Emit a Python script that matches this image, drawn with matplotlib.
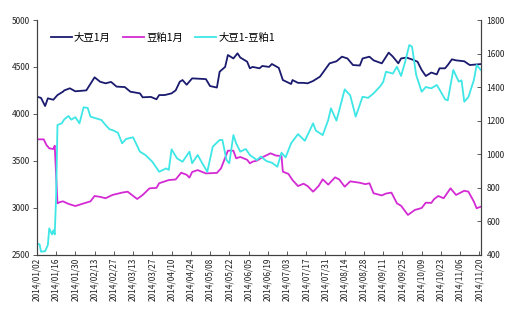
import matplotlib
matplotlib.use("Agg")
import matplotlib.pyplot as plt
import matplotlib.dates as mdates
import pandas as pd

plt.rcParams['font.family'] = ['Noto Sans CJK SC', 'DejaVu Sans']

# 大豆1月 (left axis)
soy_dates = ["01/02", "01/05", "01/08", "01/10", "01/14", "01/17", "01/21", "01/22", "01/26", "01/30",
             "02/07", "02/13", "02/17", "02/21", "02/25", "03/01", "03/07", "03/11", "03/18", "03/20",
             "03/26", "03/30", "04/01", "04/05", "04/10", "04/13", "04/16", "04/18", "04/21", "04/25",
             "05/05", "05/08", "05/13", "05/15", "05/19", "05/21", "05/25", "05/28", "05/30", "06/04",
             "06/06", "06/08", "06/13", "06/15", "06/20", "06/22", "06/27", "06/30", "07/06", "07/07",
             "07/11", "07/15", "07/18", "07/22", "07/27", "08/03", "08/08", "08/12", "08/16", "08/20",
             "08/25", "08/27", "09/01", "09/04", "09/10", "09/15", "09/18", "09/22", "09/24", "09/28",
             "10/03", "10/06", "10/09", "10/12", "10/16", "10/20", "10/22", "10/26", "10/28", "10/31",
             "11/03", "11/09", "11/13", "11/21"]
soy = [4182, 4170, 4083, 4165, 4150, 4200, 4236, 4250, 4272, 4240,
       4250, 4389, 4342, 4325, 4340, 4290, 4285, 4236, 4218, 4176,
       4180, 4155, 4200, 4200, 4218, 4250, 4342, 4360, 4310, 4378,
       4370, 4296, 4280, 4449, 4500, 4627, 4590, 4645, 4600, 4556,
       4485, 4500, 4485, 4510, 4500, 4531, 4490, 4360, 4318, 4360,
       4330, 4330, 4325, 4350, 4396, 4538, 4560, 4609, 4590, 4520,
       4515, 4590, 4609, 4570, 4538, 4652, 4610, 4538, 4590, 4600,
       4574, 4555, 4467, 4403, 4440, 4420, 4485, 4485, 4520, 4581,
       4570, 4560, 4520, 4530]

# 豆粕1月 (left axis)
meal_dates = ["01/02", "01/07", "01/09", "01/11", "01/14", "01/15", "01/16", "01/17", "01/19", "01/21",
              "01/25", "01/30", "02/04", "02/10", "02/13", "02/17", "02/21", "02/26", "03/05", "03/09",
              "03/16", "03/20", "03/25", "03/30", "04/01", "04/08", "04/13", "04/17", "04/21", "04/23",
              "04/25", "04/29", "05/05", "05/13", "05/16", "05/21", "05/25", "05/27", "05/30", "06/04",
              "06/06", "06/08", "06/11", "06/15", "06/21", "06/25", "06/29", "06/30", "07/04", "07/07",
              "07/11", "07/15", "07/18", "07/22", "07/26", "07/29", "08/02", "08/07", "08/10", "08/14",
              "08/18", "08/25", "08/29", "09/01", "09/04", "09/10", "09/13", "09/17", "09/21", "09/24",
              "09/29", "10/04", "10/09", "10/12", "10/16", "10/18", "10/21", "10/25", "10/30", "11/03",
              "11/05", "11/09", "11/12", "11/16", "11/18", "11/21"]
meal = [3728, 3728, 3667, 3632, 3625, 3660, 3348, 3046, 3060, 3067,
        3040, 3017, 3040, 3067, 3124, 3115, 3100, 3135, 3160, 3170,
        3092, 3135, 3206, 3210, 3260, 3294, 3300, 3372, 3350, 3320,
        3380, 3400, 3365, 3370, 3419, 3607, 3607, 3526, 3540, 3510,
        3472, 3490, 3500, 3536, 3579, 3555, 3550, 3383, 3360, 3294,
        3230, 3255, 3230, 3170, 3230, 3302, 3245, 3323, 3300, 3223,
        3280, 3265, 3250, 3260, 3153, 3130, 3150, 3160, 3046, 3020,
        2922, 2975, 2996, 3053, 3050, 3090, 3124, 3100, 3206, 3135,
        3150, 3180, 3170, 3063, 2993, 3010]

# 大豆1-豆粕1 (right axis)
spread_dates = ["01/02", "01/04", "01/05", "01/08", "01/10", "01/11", "01/13", "01/14", "01/15", "01/16",
                "01/17", "01/20", "01/22", "01/25", "01/27", "01/30", "02/02", "02/05", "02/08", "02/10",
                "02/14", "02/18", "02/21", "02/24", "02/26", "03/02", "03/05", "03/08", "03/13", "03/18",
                "03/22", "03/27", "04/01", "04/06", "04/08", "04/10", "04/14", "04/18", "04/23", "04/25",
                "04/29", "05/02", "05/06", "05/10", "05/15", "05/17", "05/20", "05/22", "05/25", "05/27",
                "05/30", "06/03", "06/06", "06/11", "06/14", "06/18", "06/22", "06/26", "06/29", "07/02",
                "07/06", "07/11", "07/16", "07/22", "07/24", "07/29", "08/02", "08/04", "08/08", "08/14",
                "08/18", "08/22", "08/27", "08/31", "09/04", "09/09", "09/11", "09/13", "09/16", "09/18",
                "09/21", "09/24", "09/27", "09/30", "10/02", "10/05", "10/09", "10/12", "10/16", "10/20",
                "10/22", "10/26", "10/28", "11/01", "11/05", "11/07", "11/09", "11/12", "11/16", "11/18",
                "11/21"]
spread = [467, 460, 417, 420, 457, 556, 520, 545, 520, 745,
          1173, 1183, 1207, 1227, 1205, 1220, 1183, 1279, 1275, 1223,
          1213, 1203, 1173, 1147, 1143, 1127, 1064, 1090, 1100, 1014,
          994, 954, 894, 914, 905, 1028, 974, 954, 1014, 945,
          994, 950, 894, 1044, 1084, 1084, 964, 945, 1113, 1064,
          1014, 1030, 994, 964, 985, 958, 948, 924, 1008, 980,
          1064, 1119, 1079, 1183, 1140, 1113, 1203, 1273, 1199, 1386,
          1350, 1223, 1342, 1335, 1362, 1406, 1430, 1491, 1485, 1480,
          1521, 1466, 1551, 1651, 1640, 1472, 1372, 1400, 1392, 1412,
          1385, 1327, 1320, 1502, 1432, 1440, 1312, 1340, 1442, 1531,
          1502]


def to_dates(lst):
    return pd.to_datetime(["2014/" + d for d in lst], format="%Y/%m/%d")


fig = plt.figure(figsize=(5.12, 3.28), dpi=100)
ax = fig.add_axes([0.072, 0.224, 0.867, 0.715])
ax2 = ax.twinx()

l1, = ax.plot(to_dates(soy_dates), soy, color="#1a1a6e", lw=1.3, label="大豆1月")
l2, = ax.plot(to_dates(meal_dates), meal, color="#d42ad4", lw=1.3, label="豆粕1月")
l3, = ax2.plot(to_dates(spread_dates), spread, color="#3ee6e6", lw=1.3, label="大豆1-豆粕1")

ax.set_ylim(2500, 5000)
ax.set_yticks(range(2500, 5001, 500))
ax2.set_ylim(400, 1800)
ax2.set_yticks(range(400, 1801, 200))

ticks = pd.date_range("2014-01-02", "2014-11-20", freq="14D")
ax.set_xlim(pd.Timestamp("2014-01-02"), pd.Timestamp("2014-11-21"))
ax.set_xticks(ticks)
ax.xaxis.set_major_formatter(mdates.DateFormatter("%Y/%m/%d"))
plt.setp(ax.get_xticklabels(), rotation=90)

for a in (ax, ax2):
    a.spines["top"].set_visible(False)
    for s in a.spines.values():
        s.set_color("#404040")
        s.set_linewidth(0.8)
    a.tick_params(labelsize=6, length=3, width=0.6, color="#404040",
                  labelcolor="#222222", pad=2)
ax.tick_params(axis="x", direction="in")
ax2.tick_params(axis="y", direction="in", pad=4)

ax.legend(handles=[l1, l2, l3], loc="upper left", bbox_to_anchor=(0.01, 0.985), ncol=3,
          frameon=False, fontsize=7.5, handlelength=2.0, columnspacing=1.2, handletextpad=0.2)

fig.savefig("out.png", dpi=100)
